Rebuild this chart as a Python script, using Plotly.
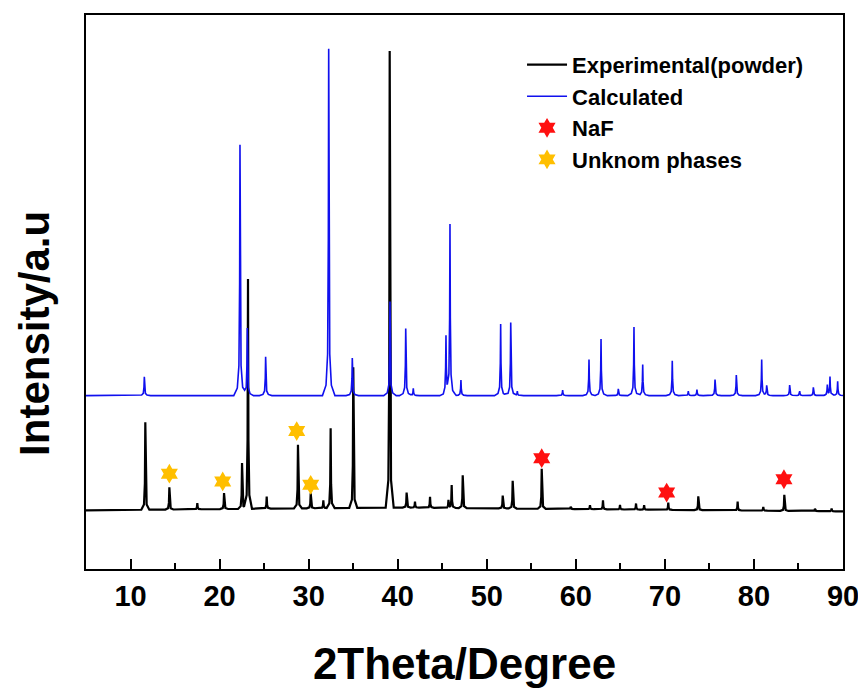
import numpy as np
import plotly.graph_objects as go

# ---------------- data ----------------
# Experimental (powder) pattern: peak positions (2theta) and heights above baseline
exp_peak_2theta = [11.66, 14.36, 17.5, 20.5, 22.52, 23.19, 25.29, 28.8, 30.23, 31.65,
                   32.47, 35.01, 39.1, 41.0, 41.94, 43.63, 45.7, 46.06, 47.3, 51.79,
                   52.91, 56.17, 59.42, 61.59, 63.05, 64.96, 66.76, 67.67, 70.38, 73.75,
                   78.17, 81.05, 83.41, 86.85, 88.72]
exp_peak_height = [15.8, 4.0, 1.1, 2.9, 8.3, 41.5, 2.2, 11.5, 2.7, 1.4,
                   14.4, 25.4, 82.4, 2.7, 1.1, 2.0, 1.4, 4.1, 5.9, 2.3,
                   5.0, 7.2, 0.4, 0.7, 1.6, 0.8, 1.1, 0.8, 1.3, 2.5,
                   1.6, 0.7, 2.9, 0.4, 0.5]
exp_base_2theta = [5, 40, 90]
exp_base_level = [10.6, 11.1, 10.4]

# Calculated pattern: peak positions and heights above its (offset) baseline
calc_peak_2theta = [11.55, 22.29, 23.11, 25.17, 32.25, 34.9, 39.13, 40.9, 41.75, 45.42,
                    45.87, 47.1, 51.56, 52.69, 53.43, 58.52, 61.48, 62.83, 64.77, 66.53,
                    67.51, 70.83, 72.63, 73.6, 75.63, 78.02, 80.87, 81.43, 84.01, 85.14,
                    86.67, 88.24, 88.54, 89.4]
calc_peak_height = [3.4, 45.3, 12.2, 7.0, 62.6, 6.8, 17.0, 12.1, 1.3, 10.3,
                    30.8, 2.8, 12.9, 13.2, 0.8, 1.0, 6.5, 10.2, 1.2, 12.4,
                    5.6, 6.3, 0.8, 1.1, 2.9, 3.7, 6.5, 1.8, 1.9, 0.8,
                    1.5, 1.9, 3.4, 2.6]
calc_base_2theta = [5, 90]
calc_base_level = [31.3, 31.3]

# Phase markers
naf_2theta = [56.17, 70.2, 83.37]
naf_level = [20.0, 13.8, 16.2]
unknown_2theta = [14.36, 20.35, 28.66, 30.23]
unknown_level = [17.2, 15.8, 24.9, 15.2]

x_tick_values = [10, 20, 30, 40, 50, 60, 70, 80, 90]

# ---------------- peak profile styles ----------------
EXP_OFFS = np.array([-0.45, -0.15, -0.05, 0.0, 0.05, 0.15, 0.45])
EXP_FRAC = np.array([0.0, 0.06, 0.3, 1.0, 0.3, 0.06, 0.0])
CALC_OFFS = np.array([-0.7, -0.3, -0.12, -0.04, 0.0, 0.04, 0.12, 0.3, 0.7])
CALC_FRAC = np.array([0.0, 0.03, 0.12, 0.45, 1.0, 0.45, 0.12, 0.03, 0.0])


def build_pattern(base_x, base_y, peaks, heights, offs, fracs):
    xs = set(base_x)
    for p in peaks:
        for o in offs:
            v = p + o
            if 5 <= v <= 90:
                xs.add(round(v, 4))
    xs = np.array(sorted(xs))
    ys = np.interp(xs, base_x, base_y)
    for p, h in zip(peaks, heights):
        ys = ys + h * np.interp(xs, p + offs, fracs, left=0.0, right=0.0)
    return xs, ys


ex, ey = build_pattern(exp_base_2theta, exp_base_level, exp_peak_2theta,
                       exp_peak_height, EXP_OFFS, EXP_FRAC)
cx, cy = build_pattern(calc_base_2theta, calc_base_level, calc_peak_2theta,
                       calc_peak_height, CALC_OFFS, CALC_FRAC)

FONT = "Liberation Sans, Arial, sans-serif"

fig = go.Figure()
fig.add_trace(go.Scatter(x=ex, y=ey, mode="lines", name="Experimental(powder)",
                         line=dict(color="black", width=2.2)))
fig.add_trace(go.Scatter(x=cx, y=cy, mode="lines", name="Calculated",
                         line=dict(color="#1010ee", width=1.6)))
fig.add_trace(go.Scatter(x=naf_2theta, y=naf_level, mode="markers", name="NaF",
                         marker=dict(symbol="hexagram", size=15, color="#ff1010",
                                     line=dict(width=0))))
fig.add_trace(go.Scatter(x=unknown_2theta, y=unknown_level, mode="markers",
                         name="Unknom phases",
                         marker=dict(symbol="hexagram", size=15, color="#ffbf00",
                                     line=dict(width=0))))

fig.update_layout(
    width=858, height=681,
    margin=dict(l=78, r=23, t=5, b=120),
    paper_bgcolor="white", plot_bgcolor="white",
    font=dict(family=FONT, color="black"),
    showlegend=True,
    legend=dict(x=0.576, y=0.948, xanchor="left", yanchor="top",
                bgcolor="rgba(0,0,0,0)", borderwidth=0,
                font=dict(family=FONT, size=22, color="black", weight="bold"),
                itemwidth=40, tracegroupgap=5),
    xaxis=dict(range=[5, 90], tickmode="array", tickvals=x_tick_values,
               ticks="inside", ticklen=10, tickwidth=2, tickcolor="black",
               minor=dict(ticks="inside", ticklen=6, tickwidth=2, dtick=5,
                          tickcolor="black", showgrid=False),
               showline=True, linewidth=2, linecolor="black", mirror=True,
               showgrid=False, zeroline=False,
               tickfont=dict(family=FONT, size=29, weight="bold"),
               title=dict(text="2Theta/Degree", standoff=37,
                          font=dict(family=FONT, size=44, weight="bold"))),
    yaxis=dict(range=[0, 100], showticklabels=False, ticks="",
               showline=True, linewidth=2, linecolor="black", mirror=True,
               showgrid=False, zeroline=False),
    annotations=[dict(text="Intensity/a.u", xref="paper", yref="paper",
                      x=-0.0675, y=0.426, textangle=-90, showarrow=False,
                      xanchor="center", yanchor="middle",
                      font=dict(family=FONT, size=42, weight="bold", color="black"))],
)

fig.write_html("out.html")
